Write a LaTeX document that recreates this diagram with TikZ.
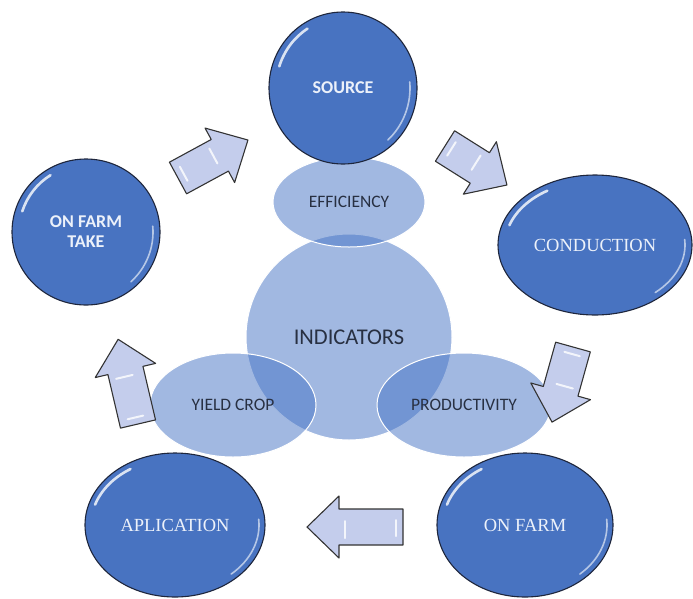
\documentclass[tikz,border=0pt]{standalone}
\usepackage{fontspec}
\setmainfont{Carlito}
\newfontfamily\slabfont{Liberation Serif}
\usetikzlibrary{shapes.geometric}

\definecolor{disc}{RGB}{72,115,193}
\definecolor{discline}{RGB}{30,38,60}
\definecolor{haze}{RGB}{68,114,196}
\definecolor{arrowfill}{RGB}{196,205,236}
\definecolor{inktext}{RGB}{40,48,66}
\definecolor{paletext}{RGB}{236,241,250}

\tikzset{
  disc/.style={ellipse, draw=discline, line width=1.1pt, fill=disc,
    inner sep=0pt, text=paletext, align=center},
  capsfont/.style={font=\fontsize{18}{21}\selectfont\bfseries},
  slabcaps/.style={font=\slabfont\fontsize{18.5}{21}\selectfont},
  lens/.style={ellipse, draw=white, line width=1pt, fill=haze,
    fill opacity=0.5, text opacity=1, inner sep=0pt, text=inktext,
    font=\fontsize{17.5}{20}\selectfont},
  blockarrow/.style={draw=black!80, line width=1.1pt, fill=arrowfill,
    line join=round},
  gloss/.style={white, line cap=round, opacity=0.8},
  pics/flowarrow/.style={code={
    \path[blockarrow] (0,-18) -- (#1-32,-18) -- (#1-32,-31) -- (#1,0)
      -- (#1-32,31) -- (#1-32,18) -- (0,18) -- cycle;
    \draw[gloss, line width=2pt] (7,-9) -- (7,7);
    \draw[gloss, line width=2pt] (#1-38,-11) -- (#1-38,6);
  }},
}

% glossy rim on a disc: node name, inner x radius, inner y radius
\newcommand\discgloss[3]{%
  \draw[gloss, line width=2.6pt] ([shift={(198:#2 and #3)}]#1.center)
    arc[start angle=198, end angle=238, x radius=#2, y radius=#3];
  \draw[gloss, line width=1.6pt, opacity=0.6] ([shift={(-5:#2 and #3)}]#1.center)
    arc[start angle=-5, end angle=48, x radius=#2, y radius=#3];
}

\begin{document}
\begin{tikzpicture}[x=1pt, y=-1pt]
  \useasboundingbox (0,0) rectangle (693,598);

  % translucent indicator group
  \node[lens, minimum width=206, minimum height=206,
        font=\fontsize{22.5}{25}\selectfont] (ind) at (349,337) {INDICATORS};
  \node[lens, minimum width=152, minimum height=90] (eff) at (349,202) {EFFICIENCY};
  \node[lens, minimum width=166, minimum height=104] (yld) at (233,405) {YIELD CROP};
  \node[lens, minimum width=174, minimum height=104] (prd) at (464,405) {PRODUCTIVITY};

  % the five stages of the cycle
  \node[disc, capsfont, minimum width=148, minimum height=152] (src) at (343,88) {SOURCE};
  \node[disc, capsfont, minimum width=148, minimum height=146] (take) at (86,232)
       {ON FARM\\[-1pt]TAKE};
  \node[disc, slabcaps, minimum width=194, minimum height=140] (cond) at (595,245) {CONDUCTION};
  \node[disc, slabcaps, minimum width=176, minimum height=144] (farm) at (525,525) {ON FARM};
  \node[disc, slabcaps, minimum width=180, minimum height=144] (apl) at (175,525) {APLICATION};

  \discgloss{src}{67}{70}
  \discgloss{take}{67}{67}
  \discgloss{cond}{90}{64}
  \discgloss{farm}{82}{66}
  \discgloss{apl}{84}{66}

  % block arrows running clockwise between the stages
  \pic[rotate=28.5]   at (178,178) {flowarrow=79.6};
  \pic[rotate=-32.2]  at (445,146) {flowarrow=73.2};
  \pic[rotate=-105.6] at (573,347) {flowarrow=78};
  \pic[rotate=180]    at (403,527) {flowarrow=96};
  \pic[rotate=103.2]  at (138,424) {flowarrow=87};
\end{tikzpicture}
\end{document}
